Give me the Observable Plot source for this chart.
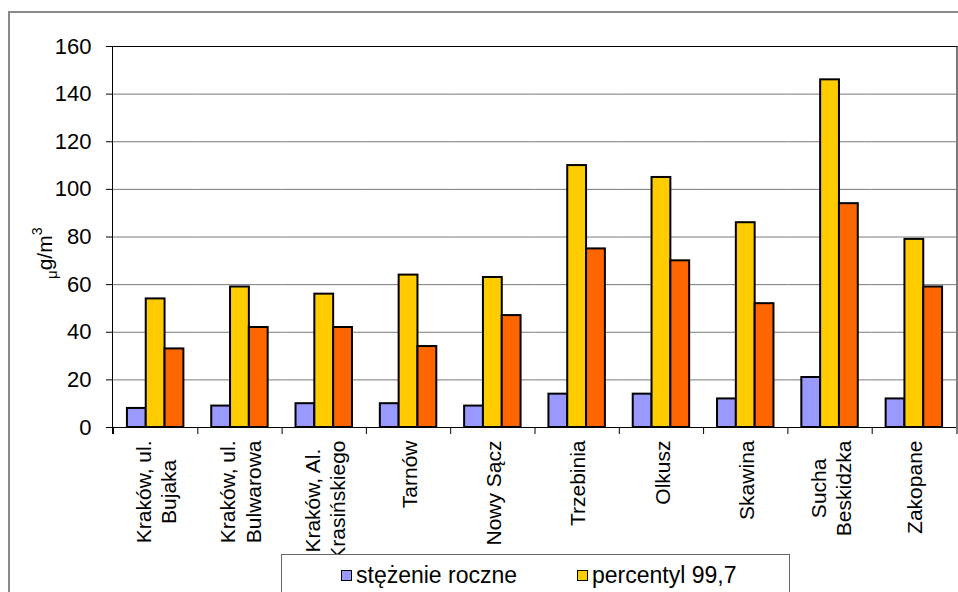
<!DOCTYPE html>
<html><head><meta charset="utf-8">
<script src="https://cdn.jsdelivr.net/npm/d3@7"></script>
<script src="https://cdn.jsdelivr.net/npm/@observablehq/plot@0.6"></script>
<style>
body{margin:0;background:#fff;overflow:hidden;font-family:"Liberation Sans",Arial,sans-serif;}
#wrap{position:relative;width:958px;height:592px;overflow:hidden;background:#fff;}
#outer{position:absolute;left:8px;top:11px;width:1000px;height:700px;border-left:2px solid #8a8a8a;border-top:2px solid #8a8a8a;}
#chart{position:absolute;left:0;top:0;}
#area{position:absolute;left:112px;top:46px;width:843px;height:387px;border-left:1px solid #000;border-top:1px solid #000;border-right:2px solid #7a7a7a;pointer-events:none;}
#ylabel{position:absolute;left:32px;top:279px;transform-origin:0 0;transform:rotate(-90deg);white-space:nowrap;font-size:21px;line-height:1;color:#000;}
#ylabel .mu{font-size:15px;position:relative;top:5px;}
#ylabel sup{font-size:14px;position:relative;top:-2px;}
#legend{position:absolute;left:281px;top:554px;width:507px;height:120px;border:1px solid #666;background:#fff;}
.item{position:absolute;display:flex;align-items:center;font-size:23px;line-height:23px;height:23px;color:#000;white-space:nowrap;}
.sw{width:9px;height:9px;border:1.5px solid #000;margin-right:4px;}
</style></head><body>
<div id="wrap">
 <div id="outer"></div>
 <div id="chart"></div>
 <div id="area"></div>
 <div id="ylabel"><span class="mu">μ</span>g/m<sup>3</sup></div>
 <div id="legend"></div>
</div>
<script>
const stationLabels = ["Kraków, ul.\nBujaka","Kraków, ul.\nBulwarowa","Kraków, Al.\nKrasińskiego","Tarnów","Nowy Sącz","Trzebinia","Olkusz","Skawina","Sucha\nBeskidzka","Zakopane"];
const seriesNames = ["stężenie roczne","percentyl 99,7","percentyl 99,2"];
const annual = [8,9,10,10,9,14,14,12,21,12];
const p997 = [54,59,56,64,63,110,105,86,146,79];
const p992 = [33,42,42,34,47,75,70,52,94,59];
const seriesColors = ["#9999FF","#FFCC00","#FF6600"];
const yTicks = [0,20,40,60,80,100,120,140,160];

const values = [annual, p997, p992];
const data = stationLabels.flatMap((s,i)=>seriesNames.map((n,k)=>({station:s, series:n, value:values[k][i]})));

const W = 958, H = 554, ML = 113, MR = 2, MT = 46, MB = H - 427;
const step = (W - ML - MR) / stationLabels.length;

const plot = Plot.plot({
  width: W, height: H,
  marginLeft: ML, marginRight: MR, marginTop: MT, marginBottom: MB,
  style: {fontFamily: '"Liberation Sans", Arial, sans-serif', background: "transparent", color: "#000"},
  fx: {domain: stationLabels, paddingInner: 0, paddingOuter: 0, round: false, axis: null, label: null},
  x: {domain: seriesNames, paddingInner: 0, paddingOuter: 0.74, round: false, axis: null, label: null},
  y: {domain: [0, 160], axis: null, label: null},
  color: {domain: seriesNames, range: seriesColors},
  marks: [
    Plot.ruleY(yTicks.filter(v => v > 0 && v < 160), {stroke: "#7a7a7a", strokeWidth: 1}),
    Plot.barY(data, {fx: "station", x: "series", y: "value", fill: "series", stroke: "#000", strokeWidth: 2}),
    Plot.ruleY([0], {stroke: "#000", strokeWidth: 1}),
    Plot.axisY({ticks: yTicks, tickSize: 7, tickPadding: 15, fontSize: 22, label: null, tickFormat: d => String(d), stroke: "#000"}),
    Plot.axisFx({anchor: "bottom", tickSize: 7, tickFormat: () => "", label: null, dx: -step / 2}),
    Plot.text(stationLabels, {fx: d => d, text: d => d, frameAnchor: "bottom", rotate: -90, textAnchor: "end", lineAnchor: "middle", lineHeight: 1.2, dy: 13, fontSize: 21, fill: "#000"})
  ]
});
document.getElementById("chart").appendChild(plot);

// center the lines of multi-line rotated category labels along their reading direction
d3.select(plot).selectAll('g[aria-label="text"] text').each(function() {
  const spans = this.querySelectorAll("tspan");
  if (spans.length > 1) {
    let w = 0;
    spans.forEach(s => { w = Math.max(w, s.getComputedTextLength()); });
    this.setAttribute("text-anchor", "middle");
    spans.forEach(s => s.setAttribute("x", -w / 2));
  }
});

const legend = document.getElementById("legend");
const legendPos = [[59, 8.5], [295, 8.5], [59, 44]];
seriesNames.forEach((n, k) => {
  const it = document.createElement("div");
  it.className = "item";
  it.style.left = legendPos[k][0] + "px";
  it.style.top = legendPos[k][1] + "px";
  it.innerHTML = `<span class="sw" style="background:${seriesColors[k]}"></span><span>${n}</span>`;
  legend.appendChild(it);
});
</script>
</body></html>
